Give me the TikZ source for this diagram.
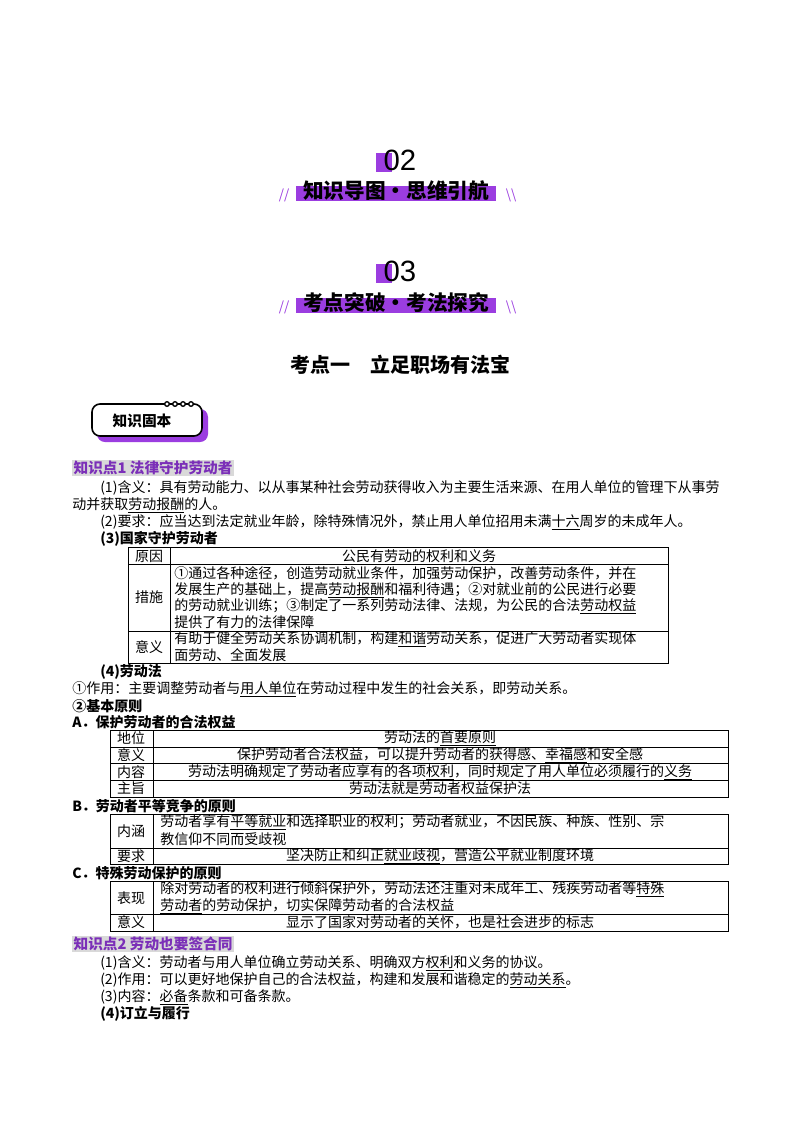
\documentclass[tikz,border=0pt]{standalone}
\usepackage{fontspec}
\setmainfont{Noto Sans CJK SC}
\newfontfamily\numf{Liberation Sans}
\definecolor{pur}{HTML}{9B3DE0}
\definecolor{ttl}{HTML}{7B2FB8}
\definecolor{hbg}{HTML}{D9D9D9}
\newcounter{nn}
\newcommand\T[3]{\stepcounter{nn}\node[txt,anchor=west] (t\arabic{nn}) at (#1,#2) {#3};}
\newcommand\C[3]{\stepcounter{nn}\node[txt] (t\arabic{nn}) at (#1,#2) {#3};}
\newcommand\ul[1]{\underline{#1}}
\begin{document}
\begin{tikzpicture}[x=0.75pt,y=-0.75pt,
  txt/.style={inner sep=0pt,font=\fontsize{10.5pt}{12pt}\selectfont},
  head/.style={inner sep=0pt,font=\fontsize{15.5pt}{17pt}\selectfont\bfseries},
  cell/.style={draw=black,line width=0.6pt}]
\useasboundingbox (0,0) rectangle (800,1132);
\fill[white] (0,0) rectangle (800,1132);
% 02
\fill[pur] (376,153) rectangle (392,172);
\node[inner sep=0pt,font=\fontsize{22pt}{24pt}\numf] (n02) at (400,160) {02};
\fill[pur] (296,186) rectangle (496,201);
\node[head] (h1) at (396,191) {知识导图·思维引航};
\node[inner sep=0pt,text=pur,font=\normalsize] (s1) at (284,195) {//};
\node[inner sep=0pt,text=pur,font=\normalsize] (s2) at (511,195) {\textbackslash\textbackslash};
% 03
\fill[pur] (376,264) rectangle (392,283);
\node[inner sep=0pt,font=\fontsize{22pt}{24pt}\numf] (n03) at (400,271) {03};
\fill[pur] (296,298) rectangle (496,313);
\node[head] (h2) at (396,303) {考点突破·考法探究};
\node[inner sep=0pt,text=pur,font=\normalsize] (s3) at (284,307) {//};
\node[inner sep=0pt,text=pur,font=\normalsize] (s4) at (511,307) {\textbackslash\textbackslash};
% 考点一
\node[inner sep=0pt,font=\fontsize{15pt}{17pt}\selectfont\bfseries] (kd) at (400,365) {考点一\quad 立足职场有法宝};
% badge
\fill[pur,rounded corners=6pt] (97,409) rectangle (208,442);
\draw[line width=1.2pt,fill=white,rounded corners=6pt] (92,404) rectangle (202,436);
\foreach \i in {0,1,2,3}{\draw[line width=1pt,fill=white] (167+\i*8,404) circle (2.3);}
\node[inner sep=0pt,font=\fontsize{11pt}{12pt}\selectfont\bfseries] (bd) at (142,421) {知识固本};
% 知识点1
\node[anchor=west,fill=hbg,inner sep=1pt,text=ttl,font=\fontsize{11pt}{12pt}\selectfont\bfseries] (k1) at (72,468) {知识点1\ 法律守护劳动者};
\T{100}{488}{(1)含义：具有劳动能力、以从事某种社会劳动获得收入为主要生活来源、在用人单位的管理下从事劳}
\T{72}{505}{动并获取\ul{劳动报酬}的人。}
\T{100}{522}{(2)要求：应当达到法定就业年龄，除特殊情况外，禁止用人单位招用未满\ul{十六}周岁的未成年人。}
\T{100}{539}{\bfseries (3)国家守护劳动者}
% table 1
\draw[cell] (128,547) rectangle (668,663);
\draw[cell] (128,564) -- (668,564) (128,631) -- (668,631) (170,547) -- (170,663);
\C{149}{556}{原因}\C{419}{556}{公民有劳动的权利和义务}
\C{149}{597}{措施}
\T{174}{573}{①通过各种途径，创造劳动就业条件，加强劳动保护，改善劳动条件，并在}
\T{174}{590}{发展生产的基础上，提高\ul{劳动报酬}和福利待遇；②对就业前的公民进行必要}
\T{174}{606}{的劳动就业训练；③制定了一系列劳动法律、法规，为公民的合法\ul{劳动权益}}
\T{174}{622}{提供了有力的法律保障}
\C{149}{647}{意义}
\T{174}{639}{有助于健全劳动关系协调机制，构建\ul{和谐}劳动关系，促进广大劳动者实现体}
\T{174}{655}{面劳动、全面发展}
% (4)
\T{100}{672}{\bfseries (4)劳动法}
\T{72}{689}{①作用：主要调整劳动者与\ul{用人单位}在劳动过程中发生的社会关系，即劳动关系。}
\T{72}{706}{\bfseries ②基本原则}
\T{72}{722}{\bfseries A．保护劳动者的合法权益}
% table A
\draw[cell] (110,730) rectangle (728,797);
\draw[cell] (110,747) -- (728,747) (110,763) -- (728,763) (110,780) -- (728,780) (153,730) -- (153,797);
\C{131}{738}{地位}\C{440}{738}{劳动法的\ul{首要原则}}
\C{131}{755}{意义}\C{440}{755}{保护劳动者合法权益，可以提升劳动者的获得感、\ul{幸福感}和安全感}
\C{131}{772}{内容}\C{440}{772}{劳动法明确规定了劳动者应享有的各项\ul{权利}，同时规定了用人单位必须履行的\ul{义务}}
\C{131}{788}{主旨}\C{440}{788}{劳动法就是劳动者权益保护法}
\T{72}{806}{\bfseries B．劳动者平等竞争的原则}
\draw[cell] (110,814) rectangle (728,864);
\draw[cell] (110,848) -- (728,848) (153,814) -- (153,864);
\C{131}{831}{内涵}
\T{160}{822}{劳动者享有\ul{平等就业}和选择职业的权利；劳动者就业，不因民族、种族、性别、宗}
\T{160}{839}{教信仰不同而受歧视}
\C{131}{856}{要求}\C{440}{856}{坚决防止和纠正\ul{就业歧视}，营造公平就业制度环境}
\T{72}{873}{\bfseries C．特殊劳动保护的原则}
\draw[cell] (110,881) rectangle (728,931);
\draw[cell] (110,914) -- (728,914) (153,881) -- (153,931);
\C{131}{898}{表现}
\T{160}{889}{除对劳动者的权利进行倾斜保护外，劳动法还注重对未成年工、残疾劳动者等\ul{特殊}}
\T{160}{906}{\ul{劳动者}的劳动保护，切实保障劳动者的合法权益}
\C{131}{922}{意义}\C{440}{922}{显示了国家对劳动者的关怀，也是社会进步的标志}
% 知识点2
\node[anchor=west,fill=hbg,inner sep=1pt,text=ttl,font=\fontsize{11pt}{12pt}\selectfont\bfseries] (k2) at (72,944) {知识点2\ 劳动也要签合同};
\T{100}{963}{(1)含义：劳动者与用人单位确立劳动关系、明确双方\ul{权利}和义务的协议。}
\T{100}{980}{(2)作用：可以更好地保护自己的合法权益，构建和发展和谐稳定的\ul{劳动关系}。}
\T{100}{997}{(3)内容：\ul{必备}条款和可备条款。}
\T{100}{1014}{\bfseries (4)订立与履行}
\end{tikzpicture}
\end{document}
